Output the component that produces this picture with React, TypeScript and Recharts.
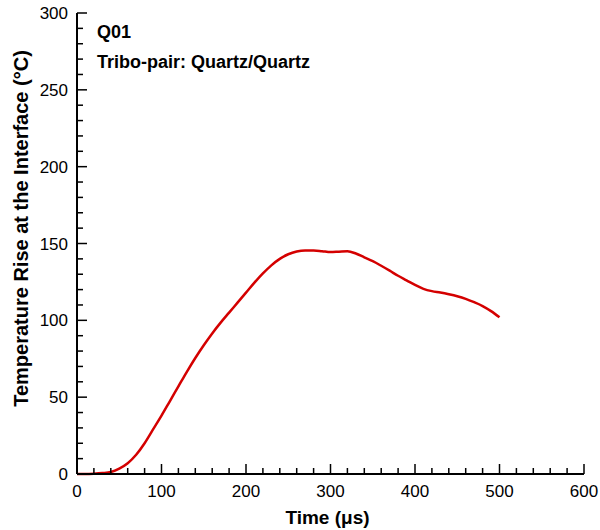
import React from 'react';
import { LineChart, Line, XAxis, YAxis, Label } from 'recharts';

// time (µs) and temperature rise (°C)
const times = [0, 10, 20, 30, 40, 50, 60, 70, 80, 90, 100, 110, 120, 130, 140, 150, 160, 170, 180, 190, 200,
  210, 220, 230, 240, 250, 260, 270, 280, 290, 300, 310, 320, 330, 340, 350, 360, 370, 380, 390, 400,
  410, 420, 430, 440, 450, 460, 470, 480, 490, 500];
const tempRise = [0, 0, 0.2, 0.6, 1.3, 3.5, 7, 12.5, 20, 29, 38, 47.5, 57, 66.5, 75.5, 83.8, 91.5, 98.5, 105, 111.5, 118,
  124.5, 130.5, 135.8, 140, 143, 144.8, 145.5, 145.5, 145, 144.4, 144.7, 145, 143.5, 141, 138.5, 135.5, 132.3, 129, 126, 123,
  120.5, 119, 118.1, 117, 115.7, 114, 111.8, 109.3, 106, 102];

const xTicks = [0, 20, 40, 60, 80, 100, 120, 140, 160, 180, 200, 220, 240, 260, 280, 300, 320, 340, 360, 380, 400,
  420, 440, 460, 480, 500, 520, 540, 560, 580, 600];
const yTicks = [0, 10, 20, 30, 40, 50, 60, 70, 80, 90, 100, 110, 120, 130, 140, 150, 160, 170, 180, 190, 200,
  210, 220, 230, 240, 250, 260, 270, 280, 290, 300];

const data = times.map((t, i) => ({ t, rise: tempRise[i] }));

const FONT = '"Liberation Sans", Arial, Helvetica, sans-serif';

const XTick = (props: any) => {
  const { x, y, payload } = props;
  const major = payload.value % 100 === 0;
  return (
    <g>
      <line x1={x} y1={y} x2={x} y2={y - (major ? 10 : 6)} stroke="#000" strokeWidth={1.5} />
      {major && (
        <text x={x} y={y + 23} textAnchor="middle" fontSize={17} fontFamily={FONT} fill="#000">
          {payload.value}
        </text>
      )}
    </g>
  );
};

const YTick = (props: any) => {
  const { x, y, payload } = props;
  const major = payload.value % 50 === 0;
  return (
    <g>
      <line x1={x} y1={y} x2={x + (major ? 10 : 6)} y2={y} stroke="#000" strokeWidth={1.5} />
      {major && (
        <text x={x - 9} y={y + 6} textAnchor="end" fontSize={17} fontFamily={FONT} fill="#000">
          {payload.value}
        </text>
      )}
    </g>
  );
};

export default function App() {
  return (
    <div style={{ position: 'absolute', left: 0, top: 0, width: 600, height: 530, background: '#fff' }}>
      <LineChart width={600} height={530} data={data} margin={{ top: 13, right: 16, bottom: 0, left: 17 }}>
        <XAxis
          dataKey="t"
          type="number"
          domain={[0, 600]}
          ticks={xTicks}
          interval={0}
          tickSize={0}
          tickMargin={0}
          tickLine={false}
          tick={<XTick />}
          axisLine={{ stroke: '#000', strokeWidth: 2 }}
          height={56}
        >
          <Label
            content={(p: any) => (
              <text x={p.viewBox.x + p.viewBox.width / 2 - 3} y={p.viewBox.y + 50} textAnchor="middle"
                fontSize={19} fontWeight="bold" fontFamily={FONT} fill="#000">
                Time (μs)
              </text>
            )}
          />
        </XAxis>
        <XAxis xAxisId="top" orientation="top" type="number" domain={[0, 600]} tick={false} tickLine={false}
          height={0} axisLine={{ stroke: '#000', strokeWidth: 1.5 }} />
        <YAxis
          type="number"
          domain={[0, 300]}
          ticks={yTicks}
          interval={0}
          tickSize={0}
          tickMargin={0}
          tickLine={false}
          tick={<YTick />}
          axisLine={{ stroke: '#000', strokeWidth: 2 }}
          width={60}
        >
          <Label
            content={(p: any) => {
              const cx = p.viewBox.x + 11;
              const cy = p.viewBox.y + p.viewBox.height / 2 - 15;
              return (
                <text x={cx} y={cy} transform={`rotate(-90 ${cx} ${cy})`} textAnchor="middle"
                  fontSize={20} fontWeight="bold" fontFamily={FONT} fill="#000">
                  Temperature Rise at the Interface (°C)
                </text>
              );
            }}
          />
        </YAxis>
        <YAxis yAxisId="right" orientation="right" type="number" domain={[0, 300]} tick={false} tickLine={false}
          width={0} axisLine={{ stroke: '#000', strokeWidth: 1.5 }} />
        <Line
          type="monotone"
          dataKey="rise"
          stroke="#d40000"
          strokeWidth={2.5}
          dot={false}
          isAnimationActive={false}
        />
      </LineChart>
      <div style={{ position: 'absolute', left: 97, top: 22, fontFamily: FONT, fontWeight: 'bold', fontSize: 18, lineHeight: '20px' }}>
        Q01
      </div>
      <div style={{ position: 'absolute', left: 97, top: 52, fontFamily: FONT, fontWeight: 'bold', fontSize: 18, lineHeight: '20px' }}>
        Tribo-pair: Quartz/Quartz
      </div>
    </div>
  );
}
